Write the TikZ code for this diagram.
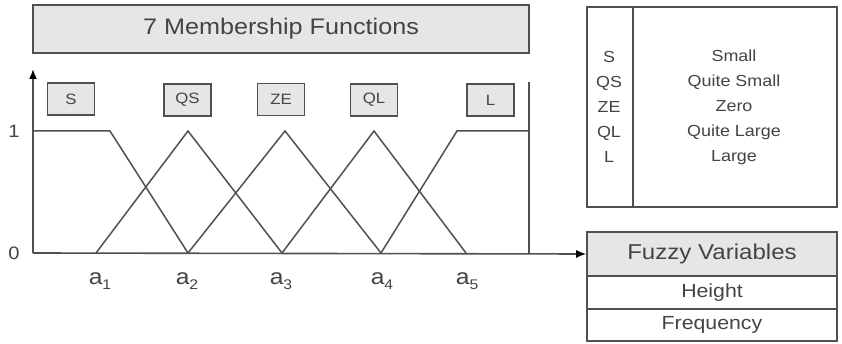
\documentclass[tikz,border=0pt]{standalone}
\usepackage{fontspec}
\setmainfont[FakeStretch=1.12]{Liberation Sans}
\usetikzlibrary{arrows.meta}
\definecolor{ink}{HTML}{444444}
\definecolor{edge}{HTML}{505050}
\definecolor{panel}{HTML}{E6E6E6}
\newcommand{\fsz}[1]{\fontsize{#1}{#1}\selectfont}
\newcommand{\idx}[2]{#1\raisebox{-5pt}{\fsz{14}#2}}
\begin{document}
\begin{tikzpicture}[x=1pt,y=-1pt,
  every node/.style={text=ink, inner sep=0pt},
  greybox/.style={draw=edge, line width=1.6pt, fill=panel},
  whitebox/.style={draw=edge, line width=1.6pt, fill=white},
  tagbox/.style={greybox, minimum width=47pt, minimum height=32pt, font=\fsz{15}},
  curve/.style={draw=edge, line width=1.5pt, line join=miter},
  axis/.style={draw=edge, line width=1.6pt},
  tip/.style={-{Latex[length=10pt,width=8pt,color=black]}}]
\useasboundingbox (0,0) rectangle (842,344);

% title banner
\node[greybox, minimum width=496pt, minimum height=48pt, font=\fsz{22.5}] (title) at (281,29) {7 Membership Functions};

% axes
\coordinate (O) at (33,253);
\coordinate (ytop) at (33,69);
\coordinate (rtop) at (529,82);
\coordinate (rbot) at (529,253);
\draw[axis, tip] (O) -- (ytop);
\draw[axis] (rbot) -- (rtop);
\node[font=\fsz{18}] (one) at (14,131) {1};
\node[font=\fsz{18}] (zero) at (14,253) {0};

% breakpoints on the universe of discourse
\coordinate (a1) at (96,253);
\coordinate (a2) at (188,253);
\coordinate (a3) at (282,253);
\coordinate (a4) at (381,253);
\coordinate (a5) at (466,253);
\coordinate (s0) at (33,131);
\coordinate (s1) at (110,131);
\coordinate (pqs) at (188,131);
\coordinate (pze) at (285,131);
\coordinate (pql) at (374,131);
\coordinate (l0) at (457,131);
\coordinate (l1) at (529,131);

% membership functions
\draw[curve] (s0) -- (s1) -- (a2);
\draw[curve] (a1) -- (pqs) -- (a3);
\draw[curve] (a2) -- (pze) -- (a4);
\draw[curve] (a3) -- (pql) -- (a5);
\draw[curve] (a4) -- (l0) -- (l1);

% labels of the breakpoints
\node[font=\fsz{22}, anchor=base] (la1) at (100,284) {\idx{a}{1}};
\node[font=\fsz{22}, anchor=base] (la2) at (187,284) {\idx{a}{2}};
\node[font=\fsz{22}, anchor=base] (la3) at (281,284) {\idx{a}{3}};
\node[font=\fsz{22}, anchor=base] (la4) at (382,284) {\idx{a}{4}};
\node[font=\fsz{22}, anchor=base] (la5) at (467,284) {\idx{a}{5}};

% linguistic term tags
\node[tagbox] (tS)  at (71,99)    {S};
\node[tagbox] (tQS) at (187.5,100) {QS};
\node[tagbox] (tZE) at (281,99.5) {ZE};
\node[tagbox] (tQL) at (374,100)  {QL};
\node[tagbox] (tL)  at (490.5,100) {L};

% legend table
\node[whitebox, minimum width=46pt, minimum height=200pt] (abbr) at (610,107) {};
\node[whitebox, minimum width=204pt, minimum height=200pt] (names) at (735,107) {};
\node[font=\fsz{16}, align=center] (abbrtxt) at (609,107) {S\\[9pt]QS\\[9pt]ZE\\[9pt]QL\\[9pt]L};
\node[font=\fsz{16}, align=center] (namestxt) at (734,107) {Small\\[9pt]Quite Small\\[9pt]Zero\\[9pt]Quite Large\\[9pt]Large};

% fuzzy variable list
\node[greybox, minimum width=250pt, minimum height=44pt, font=\fsz{21.5}] (fv) at (712,254) {Fuzzy Variables};
\node[whitebox, minimum width=250pt, minimum height=33pt, font=\fsz{19}] (hgt) at (712,292.5) {Height};
\node[whitebox, minimum width=250pt, minimum height=32pt, font=\fsz{19}] (frq) at (712,325) {Frequency};

% horizontal axis into the variable list
\draw[axis, tip] (O) -- (fv.west);
\end{tikzpicture}
\end{document}
